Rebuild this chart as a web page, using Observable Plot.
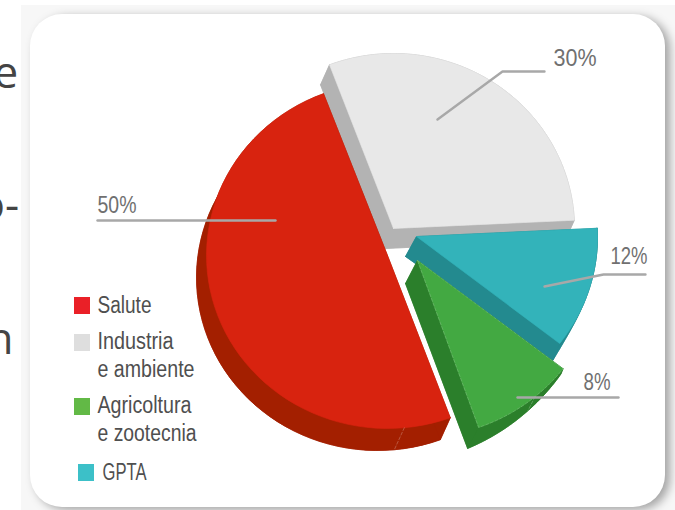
<!DOCTYPE html>
<html><head><meta charset="utf-8">
<script src="https://cdn.jsdelivr.net/npm/d3@7"></script>
<script src="https://cdn.jsdelivr.net/npm/@observablehq/plot@0.6"></script>
<style>
html,body{margin:0;padding:0;background:#fff;overflow:hidden}
#stage{position:relative;width:675px;height:510px;overflow:hidden}
#band{position:absolute;left:21px;top:5px;width:654px;height:505px;background:#f7f7f7}
#card{position:absolute;left:30px;top:14px;width:635px;height:493px;background:#fff;border-radius:32px;box-shadow:5px 3px 10px rgba(0,0,0,.34)}
#chart{position:absolute;left:0;top:0}
#chart svg{background:transparent}
</style></head><body>
<div id="stage"><div id="band"></div><div id="card"></div><div id="chart"></div></div>
<script>
// Data
const categories = ["Salute", "Industria e ambiente", "GPTA", "Agricoltura e zootecnia"];
const shares = [50, 30, 12, 8];
const shareLabels = ["50%", "30%", "12%", "8%"];
const legendLines = [["Salute"], ["Industria", "e ambiente"], ["Agricoltura", "e zootecnia"], ["GPTA"]];
const clippedWords = ["e", "o-", "n"];

// Styles and layout
const faceColors = ["#d8230f", "#e8e8e8", "#33b3ba", "#43a942"];
const wallColors = ["#a31f00", "#b3b3b3", "#238a8f", "#2b7f2b"];
const legendColors = ["#ea2027", "#dedede", "#62b946", "#3cc0c8"];
const centers = [[387, 255], [393, 228], [416, 236], [417, 260]];
const depths = [[-10, 22], [-9, 20], [-11, 20], [-12, 23]];
const endDepths = [[-10, 22], [-9, 20], [-7, 17], [-11, 21]];
const startDepths = [[-10, 22], [-9, 20], [0, 0], [-2, 5]];
const taper = [1, 1, 6, 0.6];
const radii = [[181, 173], [181, 175], [181, 175], [184, 177]];
const angleNudges = [[0.4, 0], [0, 0], [0, -2.8], [-2.8, 1.3]];
const drawOrder = [1, 2, 0, 3];
const startAngle = 159.3; // degrees clockwise from north
const seamFractions = [[0, 0.09], [3, 0.39]];

const leaders = [
  [[97, 220], [275, 220]],
  [[437, 119], [502, 71], [544, 71]],
  [[544, 286], [603, 274], [645, 274]],
  [[517, 397], [618, 397]]
];
const labelAnchors = [[97, 205], [553, 58], [610, 256], [583, 382]];
const labelWidths = [39, 43, 37, 27];
const legendRows = [[74, 297, 97], [74, 334, 97], [74, 398, 97], [78, 464, 102]];
const legendLineY = [[305], [341, 369], [405, 433], [472]];
const legendWidths = [[54], [76, 97], [94, 99], [44]];
const wordAnchors = [[-7, 73], [-22, 205], [-14, 339]];

// Slice angles come from the shares
const total = d3.sum(shares);
let acc = startAngle;
const angles = shares.map((v, i) => {
  const a0 = acc; acc += v / total * 360;
  return [a0 + angleNudges[i][0], acc + angleNudges[i][1]];
});

function arc(i, lower = false) {
  const [cx, cy] = centers[i], [rx, ry] = radii[i], [a0, a1] = angles[i];
  const n = 60, pts = [];
  for (let k = 0; k <= n; k++) {
    const t = (a0 + (a1 - a0) * k / n) * Math.PI / 180;
    let dx = 0, dy = 0;
    if (lower) {
      const f = Math.pow(k / n, taper[i]);
      const s = startDepths[i], e = endDepths[i];
      dx = s[0] + (e[0] - s[0]) * f; dy = s[1] + (e[1] - s[1]) * f;
    }
    pts.push({x: cx + dx + rx * Math.sin(t), y: cy + dy - ry * Math.cos(t)});
  }
  return pts;
}

const polygonMarks = [];
const poly = (pts, color) => polygonMarks.push(Plot.line(pts, {x: "x", y: "y", fill: color, stroke: color, strokeWidth: 0.6}));
const arcs = {};
for (const i of drawOrder) {
  const [dx, dy] = depths[i], [cx, cy] = centers[i];
  const top = arc(i), bottom = arc(i, true);
  arcs[i] = {top, bottom};
  const c = {x: cx, y: cy}, cb = {x: cx + dx, y: cy + dy};
  poly([cb, ...bottom, cb], wallColors[i]);
  poly([...top, ...bottom.slice().reverse(), top[0]], wallColors[i]);
  poly([c, top[0], bottom[0], cb, c], wallColors[i]);
  poly([c, top[top.length - 1], bottom[bottom.length - 1], cb, c], wallColors[i]);
  poly([c, ...top, c], faceColors[i]);
}
const seamRows = seamFractions.flatMap(([i, f], id) => {
  const k = Math.round(f * 60);
  return [{x: arcs[i].top[k].x, y: arcs[i].top[k].y, id}, {x: arcs[i].bottom[k].x, y: arcs[i].bottom[k].y, id}];
});
const greenEdge = [{x: centers[3][0], y: centers[3][1]}, ...arcs[3].top, {x: centers[3][0], y: centers[3][1]}];

const leaderRows = leaders.flatMap((l, i) => l.map(([x, y]) => ({x, y, id: i})));
const labelRows = shareLabels.map((t, i) => ({t, x: labelAnchors[i][0], y: labelAnchors[i][1], w: labelWidths[i]}));
const swatches = legendRows.map(([x, y], i) => ({x1: x, x2: x + 16, y1: y, y2: y + 17, fill: legendColors[i]}));
const legendText = legendLines.flatMap((ls, i) => ls.map((t, j) => ({t, x: legendRows[i][2], y: legendLineY[i][j], w: legendWidths[i][j]})));
const wordRows = clippedWords.map((t, i) => ({t, x: wordAnchors[i][0], y: wordAnchors[i][1]}));

const fit = rows => function (index, scales, values, dims, ctx, next) {
  const g = next(index, scales, values, dims, ctx);
  g.querySelectorAll("text").forEach((el, k) => {
    el.setAttribute("textLength", rows[index[k]].w);
    el.setAttribute("lengthAdjust", "spacingAndGlyphs");
  });
  return g;
};

const plot = Plot.plot({
  width: 675, height: 510, margin: 0,
  x: {domain: [0, 675], range: [0, 675], axis: null},
  y: {domain: [0, 510], range: [0, 510], axis: null},
  style: {background: "transparent"},
  marks: [
    Plot.text(wordRows, {x: "x", y: "y", text: "t", textAnchor: "start", fontSize: 44, fontWeight: 500, fontFamily: "Open Sans", fill: "#444"}),
    ...polygonMarks,
    Plot.line(seamRows, {x: "x", y: "y", z: "id", stroke: "#fff", strokeOpacity: 0.35, strokeWidth: 0.7, strokeDasharray: "3 2"}),
    Plot.line(greenEdge, {x: "x", y: "y", stroke: "#fff", strokeOpacity: 0.3, strokeWidth: 0.6, strokeDasharray: "3 2"}),
    Plot.line(leaderRows, {x: "x", y: "y", z: "id", stroke: "#a8a8a8", strokeWidth: 2.4, curve: "linear", strokeLinejoin: "miter"}),
    Plot.text(labelRows, {x: "x", y: "y", text: "t", textAnchor: "start", fontSize: 24, fontFamily: "Liberation Sans", fill: "#707070", render: fit(labelRows)}),
    Plot.rect(swatches, {x1: "x1", x2: "x2", y1: "y1", y2: "y2", fill: "fill"}),
    Plot.text(legendText, {x: "x", y: "y", text: "t", textAnchor: "start", fontSize: 23, fontFamily: "Liberation Sans", fill: "#4f4f4f", render: fit(legendText)})
  ]
});
document.getElementById("chart").appendChild(plot);
</script>
</body></html>
